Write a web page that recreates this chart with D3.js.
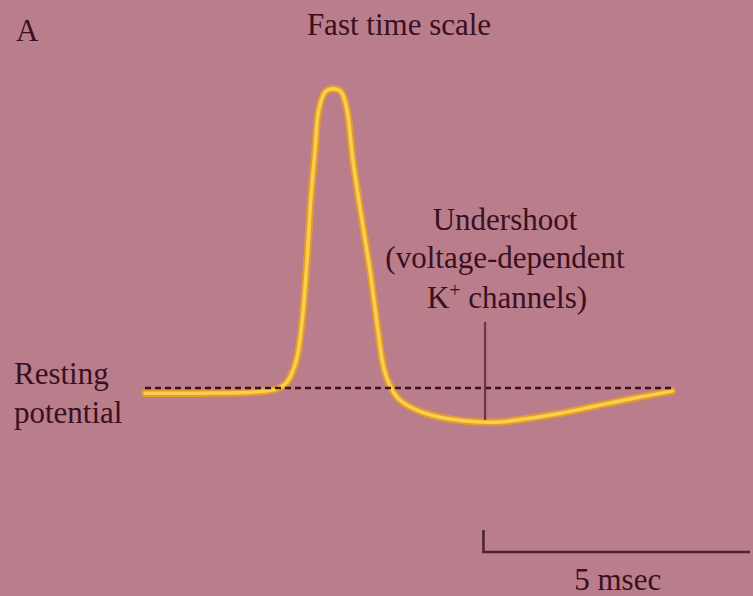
<!DOCTYPE html>
<html>
<head>
<meta charset="utf-8">
<script src="https://cdn.jsdelivr.net/npm/d3@7"></script>
<style>
  html, body { margin: 0; padding: 0; background: #b97d8c; }
  svg { display: block; }
  text { font-family: "Liberation Serif", "Times New Roman", serif; fill: #3a1020; }
</style>
</head>
<body>
<svg id="chart" width="753" height="596"></svg>
<script>
// time (msec) and membrane potential (mV)
const timeMs = [0, 1.03, 2.06, 2.46, 2.63, 2.74, 2.85, 2.95, 3.04, 3.11, 3.19, 3.26, 3.38, 3.53, 3.68, 3.79, 3.90, 4.07, 4.22, 4.37, 4.48, 4.62, 4.78, 5.25, 5.97, 6.66, 7.05, 7.77, 8.48, 9.19, 9.89];
const voltageMv = [-71.8, -71.8, -71.4, -70.4, -68.6, -65.5, -59.5, -46.2, -25.2, -4.2, 13.3, 27.3, 33.6, 34.7, 33.6, 27.3, 9.8, -11.2, -28.7, -49.7, -63, -70, -74.2, -78.8, -81.5, -81.9, -81.0, -78.9, -76.2, -73.5, -71.1];
const restingMv = -70;
const restingSpan = [0, 9.9];
const undershootTime = 6.38;
const undershootMv = -81.2;
const scaleBarMs = 5;
const scaleBarStart = 6.35;

const titleText = "Fast time scale";
const panelLabel = "A";
const restingLines = ["Resting", "potential"];
const undershootLines = ["Undershoot", "(voltage-dependent"];
const scaleLabel = "5 msec";

const svg = d3.select("#chart");
const x = d3.scaleLinear().domain([0, 10]).range([145, 678]);
const y = d3.scaleLinear().domain([-70, 35]).range([388, 88]);

const pts = timeMs.map((t, i) => [t, voltageMv[i]]);
const line = d3.line().x(d => x(d[0])).y(d => y(d[1])).curve(d3.curveCatmullRom.alpha(0.5));

// curve: orange outer, yellow core
svg.append("path").attr("d", line(pts)).attr("fill", "none")
  .attr("stroke", "#e59a30").attr("stroke-width", 7.5).attr("stroke-linejoin", "round").attr("stroke-linecap", "round");
svg.append("path").attr("d", line(pts)).attr("fill", "none")
  .attr("stroke", "#f8d04c").attr("stroke-width", 3.5).attr("stroke-linejoin", "round").attr("stroke-linecap", "round");

// resting dashed line
svg.append("line")
  .attr("x1", x(restingSpan[0])).attr("x2", x(restingSpan[1]))
  .attr("y1", y(restingMv)).attr("y2", y(restingMv))
  .attr("stroke", "#3a1520").attr("stroke-width", 2.4).attr("stroke-dasharray", "6,4");

// undershoot pointer
svg.append("line")
  .attr("x1", x(undershootTime)).attr("x2", x(undershootTime))
  .attr("y1", 322).attr("y2", y(undershootMv))
  .attr("stroke", "#6a3548").attr("stroke-width", 2.2);

// title and panel label
svg.append("text").attr("x", 399).attr("y", 35).attr("text-anchor", "middle")
  .attr("font-size", 31).text(titleText);
svg.append("text").attr("x", 16).attr("y", 41)
  .attr("font-size", 31).text(panelLabel);

// resting label
svg.append("text").attr("x", 14).attr("y", 384).attr("font-size", 31).text(restingLines[0]);
svg.append("text").attr("x", 14).attr("y", 423).attr("font-size", 31).text(restingLines[1]);

// undershoot label
const ux = 505;
svg.append("text").attr("x", ux).attr("y", 230).attr("text-anchor", "middle").attr("font-size", 31).text(undershootLines[0]);
svg.append("text").attr("x", ux).attr("y", 268).attr("text-anchor", "middle").attr("font-size", 31).text(undershootLines[1]);
const k = svg.append("text").attr("x", ux + 2).attr("y", 308).attr("text-anchor", "middle").attr("font-size", 31);
k.append("tspan").text("K");
k.append("tspan").attr("dy", -11).attr("font-size", 20).text("+");
k.append("tspan").attr("dy", 11).text(" channels)");

// scale bar
const sb0 = x(scaleBarStart), sb1 = x(scaleBarStart + scaleBarMs);
svg.append("path")
  .attr("d", `M${sb0},530 V552 H${sb1}`)
  .attr("fill", "none").attr("stroke", "#4e2030").attr("stroke-width", 2.5);
svg.append("text").attr("x", (sb0 + sb1) / 2 + 1).attr("y", 590).attr("text-anchor", "middle")
  .attr("font-size", 31).text(scaleLabel);
</script>
</body>
</html>
